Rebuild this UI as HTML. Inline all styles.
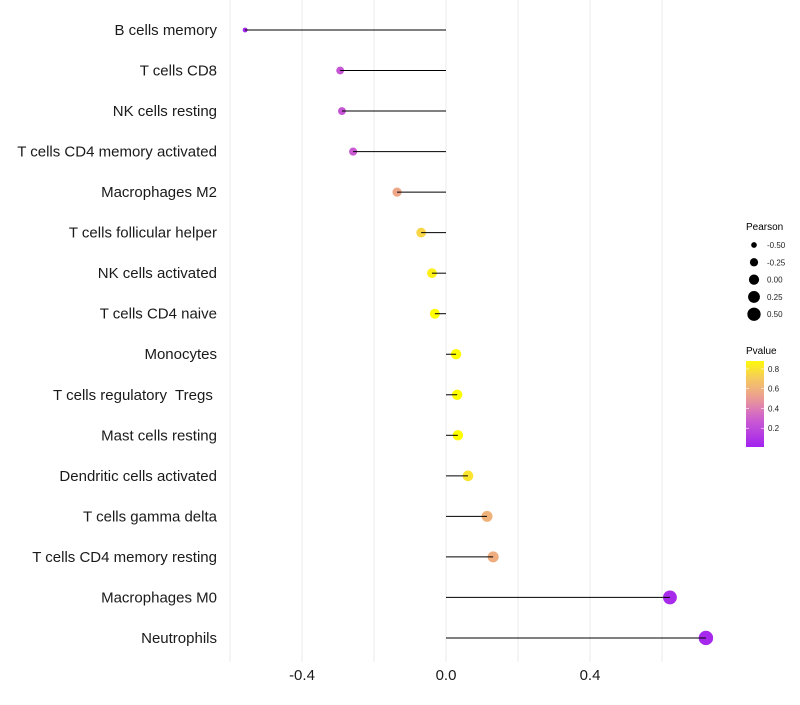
<!DOCTYPE html>
<html><head><meta charset="utf-8"><style>
body{margin:0;background:#fff;}
text{font-family:"Liberation Sans",sans-serif;white-space:pre;}
</style></head><body>
<svg id="c" width="800" height="700" xmlns="http://www.w3.org/2000/svg"></svg>
<script>
const categories=["B cells memory","T cells CD8","NK cells resting","T cells CD4 memory activated","Macrophages M2","T cells follicular helper","NK cells activated","T cells CD4 naive","Monocytes","T cells regulatory  Tregs ","Mast cells resting","Dendritic cells activated","T cells gamma delta","T cells CD4 memory resting","Macrophages M0","Neutrophils"];
const pearson=[-0.558,-0.294,-0.289,-0.258,-0.136,-0.069,-0.039,-0.031,0.028,0.031,0.033,0.061,0.114,0.131,0.622,0.722];
const pvalues=[0.03,0.25,0.25,0.28,0.55,0.75,0.85,0.9,0.9,0.9,0.9,0.8,0.6,0.58,0.05,0.04];
const xTicks=[-0.4,0.0,0.4];
const xGrid=[-0.6,-0.4,-0.2,0,0.2,0.4,0.6];
const sizeLegend=[-0.5,-0.25,0,0.25,0.5];
const colorLegend=[0.2,0.4,0.6,0.8];

const svg=document.getElementById('c');
const NS="http://www.w3.org/2000/svg";
function mk(t,a,p){const e=document.createElementNS(NS,t);for(const k in a)e.setAttribute(k,a[k]);(p||svg).appendChild(e);return e;}
const xs=v=>446+v*360;
const ys=i=>30+i*40.53;
const rs=v=>Math.sqrt(Math.max(1,26+36*v));
const stops=[[0,[160,32,240]],[0.3,[206,95,208]],[0.5,[235,155,150]],[0.7,[245,200,96]],[0.9,[255,255,0]]];
function col(p){p=Math.max(0,Math.min(0.9,p));for(let i=1;i<stops.length;i++){if(p<=stops[i][0]){const a=stops[i-1],b=stops[i];const t=(p-a[0])/(b[0]-a[0]);const c=a[1].map((x,j)=>Math.round(x+(b[1][j]-x)*t));return `rgb(${c})`;}}return 'rgb(255,255,0)';}

const grid=mk('g',{});


xGrid.forEach(v=>{const l=mk('line',{x1:xs(v),x2:xs(v),y1:0,y2:662,stroke:'#ebebeb','stroke-width':1},grid);

});

xTicks.forEach(v=>{const t=mk('text',{x:xs(v),y:680,'text-anchor':'middle','font-size':15,fill:'#1a1a1a'});t.textContent=v.toFixed(1);

});

categories.forEach((c,i)=>{
 const y=ys(i);
 const t=mk('text',{x:217,y:y+5,'text-anchor':'end','font-size':15,fill:'#1a1a1a'});t.textContent=c;
 
 
 const pt=mk('circle',{cx:xs(pearson[i]),cy:y,r:rs(pearson[i]),fill:col(pvalues[i])});
 
 
 const l=mk('line',{x1:xs(0),x2:xs(pearson[i]),y1:y,y2:y,stroke:'#000','stroke-width':1});
 
 
});

const lg=mk('g',{});


let tt=mk('text',{x:746,y:230,'font-size':10,fill:'#000'},lg);tt.textContent='Pearson';
sizeLegend.forEach((v,i)=>{const y=245+i*17.3;
 const c=mk('circle',{cx:754,cy:y,r:rs(v),fill:'#000'},lg);
 
 
 const t=mk('text',{x:767,y:y+3,'font-size':8,fill:'#222'},lg);t.textContent=v.toFixed(2);});

const cl=mk('g',{});


tt=mk('text',{x:746,y:354,'font-size':10,fill:'#000'},cl);tt.textContent='Pvalue';
const defs=mk('defs',{});
const gr=mk('linearGradient',{id:'g',x1:0,y1:1,x2:0,y2:0},defs);
for(let k=0;k<=10;k++){const p=0.01+k*0.087;mk('stop',{offset:k/10,'stop-color':col(p)},gr);}
const bar=mk('rect',{x:746,y:361,width:18,height:86,fill:'url(#g)'},cl);


colorLegend.forEach(v=>{const y=447-(v-0.01)/0.87*86;
 mk('line',{x1:746,x2:749,y1:y,y2:y,stroke:'#fff','stroke-width':0.6},cl);
 mk('line',{x1:761,x2:764,y1:y,y2:y,stroke:'#fff','stroke-width':0.6},cl);
 const t=mk('text',{x:768,y:y+3,'font-size':8,fill:'#222'},cl);t.textContent=v.toFixed(1);});
</script>
</body></html>
